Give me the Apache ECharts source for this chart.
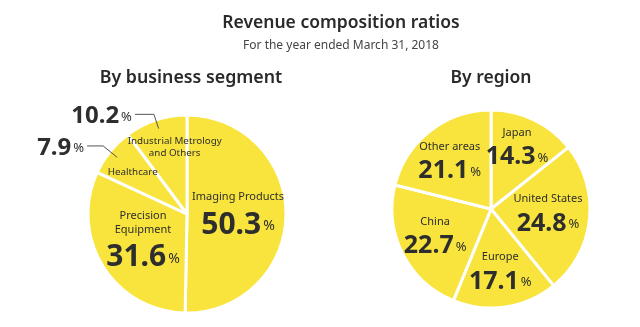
<!DOCTYPE html>
<html>
<head>
<meta charset="utf-8">
<script src="https://cdn.jsdelivr.net/npm/echarts@6/dist/echarts.min.js"></script>
<style>
html,body{margin:0;padding:0;background:#fff;}
#c{width:640px;height:327px;}
</style>
</head>
<body>
<div id="c"></div>
<script>
// ---- data ----
const segNames = ['Imaging Products', 'Precision Equipment', 'Healthcare', 'Industrial Metrology and Others'];
const segLabels = ['Imaging Products', 'Precision\nEquipment', 'Healthcare', 'Industrial Metrology\nand Others'];
const segValues = [50.3, 31.6, 7.9, 10.2];
const segOutside = [false, false, true, true];

const regNames = ['Japan', 'United States', 'Europe', 'China', 'Other areas'];
const regValues = [14.3, 24.8, 17.1, 22.7, 21.1];

// ---- layout (pixels) ----
const FONT = '"Noto Sans", "Open Sans", sans-serif';
const YELLOW = '#f8e43c';
const TEXT = '#2e2e2e';
const leftCenter = [187, 214], leftR = 99;
const rightCenter = [491, 209], rightR = 99;
// where the first name line of each label sits: radius fraction, angle shift (deg) from the slice middle
const segLabelPos = [[0.54, -17.9], [0.445, 29], [0.685, -2.2], [0.735, 8.6]];
const segFirstLine = [14, 14, 12, 12];
const regLabelPos = [[0.81, -6.8], [0.583, -15.1], [0.503, -2.3], [0.58, 13.4], [0.75, 4.2]];
const regFirstLine = [14, 14, 14, 14, 14];
const segLineLen = [[15, 19], [15, 19], [18, 16], [15, 19]];

function midAngles(vals) {
  const total = vals.reduce((a, b) => a + b, 0);
  let acc = 0;
  return vals.map(v => { const m = (acc + v / 2) / total * 360; acc += v; return m; });
}
function placeLabel(center, R, vals, pos, firstLine) {
  const mids = midAngles(vals);
  return function (params) {
    const i = params.dataIndex;
    const a = (mids[i] + pos[i][1]) * Math.PI / 180;
    const r = R * pos[i][0];
    const h = params.labelRect.height;
    return {
      x: center[0] + r * Math.sin(a),
      y: center[1] - r * Math.cos(a) - firstLine[i] / 2 + h / 2
    };
  };
}

const rich = {
  n: { fontFamily: FONT, fontSize: 11, color: TEXT, lineHeight: 14, align: 'center' },
  s: { fontFamily: FONT, fontSize: 9.8, color: TEXT, lineHeight: 12, align: 'center' },
  v: { fontFamily: FONT, fontSize: 30, fontWeight: 'bold', color: TEXT, lineHeight: 36, verticalAlign: 'bottom' },
  p: { fontFamily: FONT, fontSize: 14, color: TEXT, verticalAlign: 'bottom', padding: [0, 0, 7, 2] },
  vr: { fontFamily: FONT, fontSize: 25, fontWeight: 'bold', color: TEXT, lineHeight: 30, verticalAlign: 'bottom' },
  pr: { fontFamily: FONT, fontSize: 13, color: TEXT, verticalAlign: 'bottom', padding: [0, 0, 5, 2] },
  vo: { fontFamily: FONT, fontSize: 24, fontWeight: 'bold', color: TEXT, lineHeight: 28, verticalAlign: 'bottom' },
  po: { fontFamily: FONT, fontSize: 13, color: TEXT, verticalAlign: 'bottom', padding: [0, 0, 5, 2] }
};

const segData = segNames.map((n, i) => ({
  name: n,
  value: segValues[i],
  label: {
    formatter: segOutside[i]
      ? segLabels[i].split('\n').map(s => '{s|' + s + '}').join('\n')
      : segLabels[i].split('\n').map(s => '{n|' + s + '}').join('\n') + '\n{v|' + segValues[i].toFixed(1) + '}{p|%}'
  }
}));

const segOuterData = segNames.map((n, i) => ({
  name: n,
  value: segValues[i],
  label: { show: segOutside[i], formatter: '{vo|' + segValues[i].toFixed(1) + '}{po|%}' },
  labelLine: { show: segOutside[i], length: segLineLen[i][0], length2: segLineLen[i][1] }
}));

const regData = regNames.map((n, i) => ({
  name: n,
  value: regValues[i],
  label: { formatter: '{n|' + n + '}\n{vr|' + regValues[i].toFixed(1) + '}{pr|%}' }
}));

const chart = echarts.init(document.getElementById('c'), null, { renderer: 'canvas' });
chart.setOption({
  backgroundColor: '#ffffff',
  animation: false,
  title: [
    { text: 'Revenue composition ratios', left: 336, top: 9, textAlign: 'center',
      textStyle: { fontFamily: FONT, fontSize: 17.5, fontWeight: 600, color: '#2a2a2a' } },
    { text: 'For the year ended March 31, 2018', left: 336, top: 35, textAlign: 'center',
      textStyle: { fontFamily: FONT, fontSize: 12, fontWeight: 'normal', color: '#444' } },
    { text: 'By business segment', left: 186, top: 64, textAlign: 'center',
      textStyle: { fontFamily: FONT, fontSize: 17.8, fontWeight: 600, color: '#2a2a2a' } },
    { text: 'By region', left: 486, top: 64, textAlign: 'center',
      textStyle: { fontFamily: FONT, fontSize: 17.5, fontWeight: 600, color: '#2a2a2a' } }
  ],
  series: [
    {
      type: 'pie',
      center: leftCenter,
      radius: [0, leftR],
      startAngle: 90,
      clockwise: true,
      avoidLabelOverlap: false,
      silent: true,
      itemStyle: { color: YELLOW, borderColor: '#ffffff', borderWidth: 3 },
      label: { show: true, position: 'inside', align: 'center', verticalAlign: 'middle', rich: rich },
      labelLine: { show: false },
      labelLayout: placeLabel(leftCenter, leftR, segValues, segLabelPos, segFirstLine),
      data: segData
    },
    {
      type: 'pie',
      center: leftCenter,
      radius: [0, 90],
      startAngle: 90,
      clockwise: true,
      avoidLabelOverlap: false,
      silent: true,
      z: 3,
      itemStyle: { color: 'rgba(0,0,0,0)', borderWidth: 0 },
      label: { position: 'outside', distanceToLabelLine: 3, rich: rich },
      labelLine: { smooth: false, lineStyle: { color: '#555', width: 1 } },
      data: segOuterData
    },
    {
      type: 'pie',
      center: rightCenter,
      radius: [0, rightR],
      startAngle: 90,
      clockwise: true,
      avoidLabelOverlap: false,
      silent: true,
      itemStyle: { color: YELLOW, borderColor: '#ffffff', borderWidth: 3 },
      label: { show: true, position: 'inside', align: 'center', verticalAlign: 'middle', rich: rich },
      labelLine: { show: false },
      labelLayout: placeLabel(rightCenter, rightR, regValues, regLabelPos, regFirstLine),
      data: regData
    }
  ]
});
</script>
</body>
</html>
